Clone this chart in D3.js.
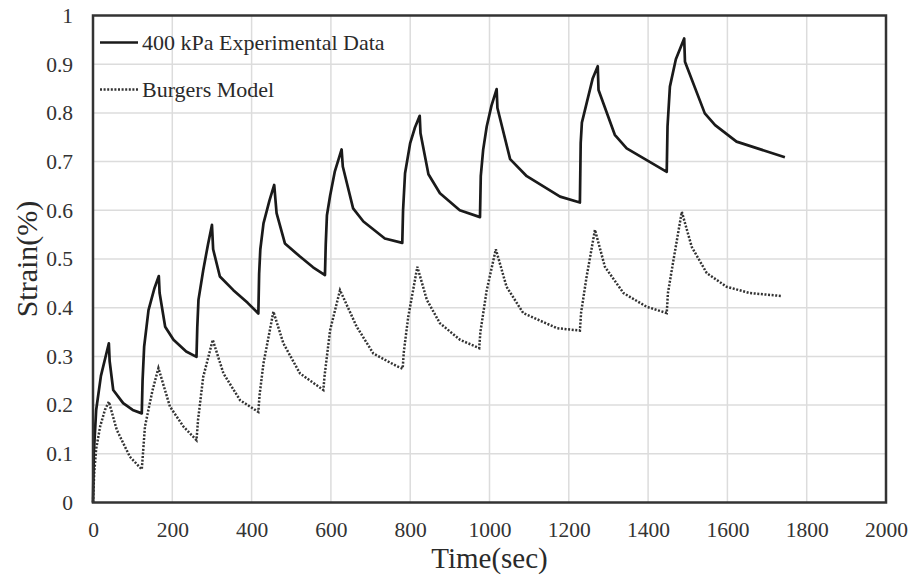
<!DOCTYPE html>
<html>
<head>
<meta charset="utf-8">
<script src="https://cdn.jsdelivr.net/npm/d3@7"></script>
<style>
  body { margin: 0; background: #fff; }
  svg { display: block; font-family: "Liberation Serif", "Times New Roman", serif; }
</style>
</head>
<body>
<svg id="chart" width="913" height="577"></svg>
<script>
// experimental creep-recovery data, 400 kPa
const expTime = [0, 2, 8, 20, 40, 42, 51, 76, 100, 123,
    125, 129, 140, 155, 166, 168, 182, 203, 235, 261,
    263, 266, 278, 290, 300, 303, 320, 354, 390, 417,
    419, 422, 430, 445, 457, 463, 484, 522, 555, 585,
    587, 590, 598, 610, 627, 630, 656, 682, 736, 780,
    782, 787, 800, 812, 824, 826, 846, 875, 925, 976,
    978, 984, 993, 1005, 1018, 1020, 1052, 1094, 1178, 1228,
    1230, 1233, 1245, 1260, 1273, 1275, 1316, 1346, 1447,
    1449, 1455, 1470, 1491, 1493, 1543, 1569, 1623, 1745];
const expStrain = [0, 0.1, 0.19, 0.26, 0.327, 0.29, 0.231, 0.204, 0.19, 0.183,
    0.25, 0.32, 0.395, 0.44, 0.465, 0.43, 0.361, 0.334, 0.31, 0.299,
    0.36, 0.416, 0.477, 0.53, 0.57, 0.52, 0.464, 0.436, 0.41, 0.388,
    0.47, 0.52, 0.573, 0.62, 0.652, 0.594, 0.532, 0.505, 0.483, 0.467,
    0.53, 0.59, 0.63, 0.68, 0.725, 0.69, 0.604, 0.577, 0.542, 0.533,
    0.6, 0.676, 0.738, 0.77, 0.794, 0.758, 0.674, 0.635, 0.6, 0.586,
    0.67, 0.724, 0.772, 0.815, 0.849, 0.81, 0.705, 0.67, 0.628, 0.616,
    0.738, 0.78, 0.82, 0.87, 0.896, 0.847, 0.755, 0.727, 0.679,
    0.772, 0.854, 0.91, 0.953, 0.905, 0.799, 0.775, 0.741, 0.709];

// Burgers model fit
const modelTime = [0, 3, 8, 18, 30, 40, 60, 93, 123,
    126, 131, 150, 165, 194, 228, 261,
    265, 278, 302, 329, 371, 417,
    420, 430, 455, 480, 522, 581,
    584, 598, 623, 665, 707, 766, 781,
    784, 795, 818, 842, 875, 926, 974,
    977, 993, 1016, 1043, 1085, 1170, 1228,
    1231, 1245, 1266, 1291, 1338, 1396, 1447,
    1450, 1464, 1485, 1510, 1548, 1598, 1657, 1737];
const modelStrain = [0, 0.06, 0.11, 0.156, 0.19, 0.207, 0.149, 0.094, 0.068,
    0.1, 0.156, 0.23, 0.276, 0.197, 0.156, 0.128,
    0.17, 0.258, 0.334, 0.265, 0.21, 0.186,
    0.22, 0.286, 0.392, 0.327, 0.265, 0.231,
    0.26, 0.354, 0.436, 0.361, 0.306, 0.28, 0.275,
    0.31, 0.381, 0.484, 0.416, 0.368, 0.334, 0.317,
    0.35, 0.436, 0.52, 0.443, 0.389, 0.358, 0.353,
    0.39, 0.464, 0.56, 0.484, 0.43, 0.402, 0.389,
    0.43, 0.498, 0.597, 0.525, 0.471, 0.443, 0.43, 0.424];

const xTicks = [0, 200, 400, 600, 800, 1000, 1200, 1400, 1600, 1800, 2000];
const yTicks = [0, 0.1, 0.2, 0.3, 0.4, 0.5, 0.6, 0.7, 0.8, 0.9, 1];
const seriesNames = ["400 kPa Experimental Data", "Burgers Model"];

const margin = { top: 15.5, right: 27, bottom: 74.5, left: 93 };
const width = 913 - margin.left - margin.right;
const height = 577 - margin.top - margin.bottom;

const svg = d3.select("#chart");
const g = svg.append("g").attr("transform", `translate(${margin.left},${margin.top})`);

const x = d3.scaleLinear().domain([0, 2000]).range([0, width]);
const y = d3.scaleLinear().domain([0, 1]).range([height, 0]);

// grid
g.append("g")
    .selectAll("line")
    .data(xTicks.slice(1, -1))
    .join("line")
    .attr("x1", d => x(d)).attr("x2", d => x(d))
    .attr("y1", 0).attr("y2", height)
    .attr("stroke", "#dcdcdc").attr("stroke-width", 1.5);
g.append("g")
    .selectAll("line")
    .data(yTicks.slice(1, -1))
    .join("line")
    .attr("x1", 0).attr("x2", width)
    .attr("y1", d => y(d)).attr("y2", d => y(d))
    .attr("stroke", "#dcdcdc").attr("stroke-width", 1.5);

// axes (labels only)
const xAxis = g.append("g")
    .attr("transform", `translate(0,${height})`)
    .call(d3.axisBottom(x).tickValues(xTicks).tickSize(0).tickPadding(19).tickFormat(d3.format("d")));
const yAxis = g.append("g")
    .call(d3.axisLeft(y).tickValues(yTicks).tickSize(0).tickPadding(20).tickFormat(d => d === 0 || d === 1 ? d : d.toFixed(1)));
[xAxis, yAxis].forEach(a => {
    a.select(".domain").remove();
    a.selectAll("text")
        .attr("font-family", "Liberation Serif, Times New Roman, serif")
        .attr("font-size", 21.5)
        .attr("fill", "#333");
});

// lines
const line = d3.line()
    .x(d => x(d[0]))
    .y(d => y(d[1]));

const modelData = modelTime.map((t, i) => [t, modelStrain[i]]);
const expData = expTime.map((t, i) => [t, expStrain[i]]);

g.append("path")
    .datum(modelData)
    .attr("d", line)
    .attr("fill", "none")
    .attr("stroke", "#333")
    .attr("stroke-width", 2.5)
    .attr("stroke-dasharray", "2 1.6");

g.append("path")
    .datum(expData)
    .attr("d", line)
    .attr("fill", "none")
    .attr("stroke", "#1a1a1a")
    .attr("stroke-width", 2.7)
    .attr("stroke-linejoin", "round");

// frame
g.append("rect")
    .attr("width", width).attr("height", height)
    .attr("fill", "none")
    .attr("stroke", "#333")
    .attr("stroke-width", 2.5);

// legend
const legend = g.append("g").attr("transform", "translate(7,0)");
const legendRows = [
    { name: seriesNames[0], dash: null, width: 2.7, y: 27 },
    { name: seriesNames[1], dash: "2 1.6", width: 2.5, y: 74 }
];
legendRows.forEach(r => {
    legend.append("line")
        .attr("x1", 0).attr("x2", 38)
        .attr("y1", r.y).attr("y2", r.y)
        .attr("stroke", r.dash ? "#333" : "#1a1a1a")
        .attr("stroke-width", r.width)
        .attr("stroke-dasharray", r.dash);
    legend.append("text")
        .attr("x", 42).attr("y", r.y)
        .attr("dy", "0.33em")
        .attr("font-size", 22)
        .attr("fill", "#2a2a2a")
        .text(r.name);
});

// axis titles
svg.append("text")
    .attr("x", margin.left + width / 2)
    .attr("y", 568)
    .attr("text-anchor", "middle")
    .attr("font-size", 29)
    .attr("fill", "#2a2a2a")
    .text("Time(sec)");
svg.append("text")
    .attr("transform", `translate(37,${margin.top + height / 2}) rotate(-90)`)
    .attr("text-anchor", "middle")
    .attr("font-size", 30)
    .attr("fill", "#2a2a2a")
    .text("Strain(%)");
</script>
</body>
</html>
